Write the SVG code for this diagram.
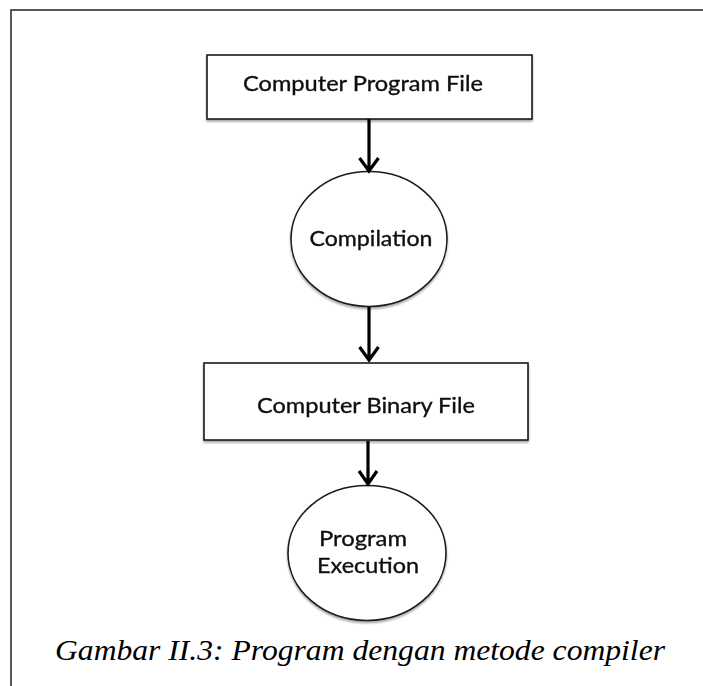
<svg xmlns="http://www.w3.org/2000/svg" width="703" height="686" viewBox="0 0 703 686">
  <defs>
    <style>
      .frame { fill: none; stroke: #222; stroke-width: 1.5; }
      .shape { fill: #fff; stroke: #1a1a1a; stroke-width: 1.6; }
      .label { font-family: Lato, "Open Sans", "Liberation Sans", sans-serif; font-size: 21px; fill: #111; stroke: #111; stroke-width: 0.35; text-anchor: middle; }
      .edge { fill: none; stroke: #000; stroke-width: 3.2; }
      .caption { font-family: "Liberation Serif", "DejaVu Serif", serif; font-style: italic; font-size: 30px; fill: #000; text-anchor: middle; }
    </style>
    <filter id="shadow" x="-10%" y="-10%" width="120%" height="130%">
      <feGaussianBlur in="SourceAlpha" stdDeviation="1.2"/>
      <feOffset dx="0" dy="1.5" result="b"/>
      <feComponentTransfer><feFuncA type="linear" slope="0.35"/></feComponentTransfer>
      <feMerge><feMergeNode/><feMergeNode in="SourceGraphic"/></feMerge>
    </filter>
  </defs>

  <rect width="703" height="686" fill="#fff"/>

  <!-- page frame: top and left rules -->
  <path class="frame" d="M11 686 V10 H703"/>

  <!-- nodes -->
  <g id="program-file" filter="url(#shadow)">
    <rect class="shape" x="207" y="55" width="325" height="64"/>
    <text class="label" x="363" y="91" textLength="240" lengthAdjust="spacingAndGlyphs">Computer Program File</text>
  </g>

  <g id="compilation" filter="url(#shadow)">
    <ellipse class="shape" cx="369" cy="239" rx="78" ry="67.5"/>
    <text class="label" x="371" y="246" textLength="123" lengthAdjust="spacingAndGlyphs">Compilation</text>
  </g>

  <g id="binary-file" filter="url(#shadow)">
    <rect class="shape" x="204" y="363" width="324" height="77"/>
    <text class="label" x="366" y="413" textLength="218" lengthAdjust="spacingAndGlyphs">Computer Binary File</text>
  </g>

  <g id="program-execution" filter="url(#shadow)">
    <ellipse class="shape" cx="367" cy="553" rx="79" ry="67.5"/>
    <text class="label" x="363" y="546" textLength="88" lengthAdjust="spacingAndGlyphs">Program</text>
    <text class="label" x="368" y="573" textLength="102" lengthAdjust="spacingAndGlyphs">Execution</text>
  </g>

  <!-- connectors -->
  <g id="connectors">
    <path class="edge" d="M369 119 V171 M359.5 158 L369 171 L378.5 158"/>
    <path class="edge" d="M369 307 V361 M359.5 347 L369 360 L378.5 347"/>
    <path class="edge" d="M368 441 V484 M359 471 L368 484 L377 471"/>
  </g>

  <!-- caption -->
  <text class="caption" x="360" y="660" textLength="610" lengthAdjust="spacingAndGlyphs">Gambar II.3: Program dengan metode compiler</text>
</svg>
